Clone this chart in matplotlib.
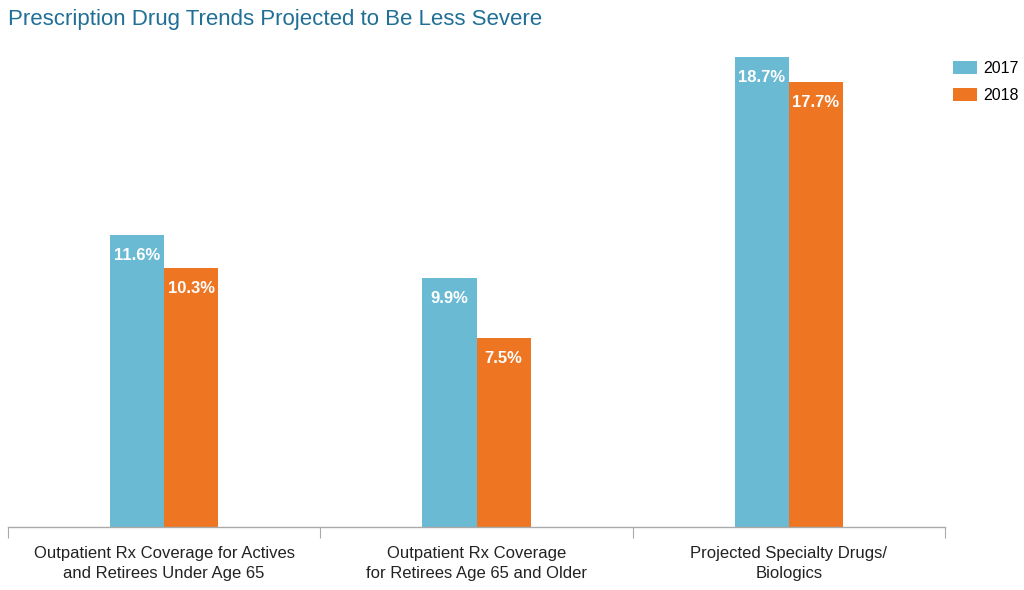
import matplotlib
matplotlib.use("Agg")
import matplotlib.pyplot as plt
import numpy as np

categories = ["Outpatient Rx Coverage for Actives\nand Retirees Under Age 65",
              "Outpatient Rx Coverage\nfor Retirees Age 65 and Older",
              "Projected Specialty Drugs/\nBiologics"]
series_names = ["2017", "2018"]
values_2017 = [11.6, 9.9, 18.7]
values_2018 = [10.3, 7.5, 17.7]

colors = ["#6bbad3", "#ee7623"]
plt.rcParams['font.family'] = ['Liberation Sans', 'DejaVu Sans']

fig = plt.figure(figsize=(10.24, 5.9), dpi=100)
W, H = 1024, 590
ax = fig.add_axes([8/W, (H-527)/H, (945-8)/W, (527-57)/H])

x = np.arange(len(categories))
bw = 0.173
bars1 = ax.bar(x - bw/2, values_2017, bw, color=colors[0], label=series_names[0])
bars2 = ax.bar(x + bw/2, values_2018, bw, color=colors[1], label=series_names[1])

for bars, vals in ((bars1, values_2017), (bars2, values_2018)):
    for b, v in zip(bars, vals):
        ax.annotate(f"{v:.1f}%", (b.get_x() + b.get_width()/2, v),
                    xytext=(0, -20), textcoords="offset pixels",
                    ha="center", va="center", color="white",
                    fontsize=12, fontweight="bold")

ax.set_xlim(-0.5, len(categories) - 0.5)
ax.set_ylim(0, max(values_2017))
for s in ["top", "right", "left"]:
    ax.spines[s].set_visible(False)
ax.spines["bottom"].set_color("#aaaaaa")
ax.spines["bottom"].set_linewidth(1)
ax.set_yticks([])
ax.set_xticks(np.arange(-0.5, len(categories)), labels=[""] * (len(categories) + 1))
ax.tick_params(axis="x", which="major", length=8, color="#aaaaaa", direction="out")
ax.set_xticks(x, labels=categories, minor=True)
ax.tick_params(axis="x", which="minor", length=0, pad=14, labelsize=12, labelcolor="#222222")
for lbl in ax.get_xticklabels(minor=True):
    lbl.set_linespacing(1.35)

fig.text(8/W, 1 - 20/H, "Prescription Drug Trends Projected to Be Less Severe",
         ha="left", va="center", fontsize=16, color="#1f6f96")

leg = fig.legend(handles=[bars1, bars2], labels=series_names, loc="upper left",
                 bbox_to_anchor=(953/W, 1 - 61/H), frameon=False, fontsize=11.5,
                 borderaxespad=0, borderpad=0,
                 handlelength=1.5, handleheight=0.8, handletextpad=0.4, labelspacing=0.75)

fig.savefig("out.png", dpi=100)
